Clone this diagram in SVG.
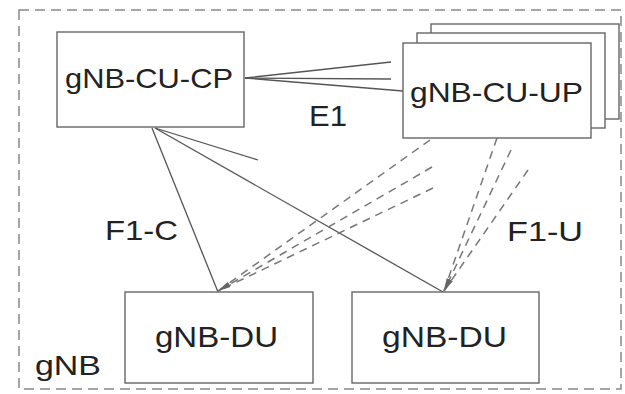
<svg xmlns="http://www.w3.org/2000/svg" width="625" height="394" viewBox="0 0 625 394">
<style>
.box{fill:#fff;stroke:#666;stroke-width:1.4}
.lbl{font-family:"Liberation Sans",Arial,sans-serif;font-size:28px;fill:#222}
.sl{stroke:#555;stroke-width:1.3;fill:none}
.dl{stroke:#777;stroke-width:1.5;stroke-dasharray:8,6;fill:none}
</style>
<defs>
<marker id="ah" markerUnits="userSpaceOnUse" markerWidth="14" markerHeight="6" refX="13" refY="2.5" orient="auto">
<path d="M0,0.8 L13,2.5 L0,4.2 z" fill="#666"/>
</marker>
</defs>
<rect x="0" y="0" width="625" height="394" fill="#fff"/>
<g id="gNB">
<rect x="19" y="10" width="602" height="379" fill="none" stroke="#888" stroke-width="1.5" stroke-dasharray="10,6"/>
<text class="lbl" x="35" y="375" textLength="66" lengthAdjust="spacingAndGlyphs">gNB</text>
</g>
<g id="connectors">
<line class="sl" x1="245" y1="78" x2="391" y2="62"/>
<line class="sl" x1="245" y1="78" x2="391" y2="79"/>
<line class="sl" x1="245" y1="78" x2="403" y2="91"/>
<line class="sl" x1="155" y1="128" x2="258" y2="160"/>
<line class="sl" x1="152" y1="128" x2="218" y2="292"/>
<line class="sl" x1="155" y1="128" x2="443" y2="292"/>
<line class="dl" x1="430" y1="140" x2="218" y2="291" marker-end="url(#ah)"/>
<line class="dl" x1="432" y1="167" x2="218" y2="291" marker-end="url(#ah)"/>
<line class="dl" x1="433" y1="188" x2="218" y2="291" marker-end="url(#ah)"/>
<line class="dl" x1="497" y1="138" x2="444" y2="291" marker-end="url(#ah)"/>
<line class="dl" x1="511" y1="150" x2="444" y2="291" marker-end="url(#ah)"/>
<line class="dl" x1="528" y1="170" x2="444" y2="291" marker-end="url(#ah)"/>
<text class="lbl" x="309" y="126" font-size="30" textLength="38" lengthAdjust="spacingAndGlyphs" style="font-size:30px">E1</text>
<text class="lbl" x="105" y="240" textLength="73" lengthAdjust="spacingAndGlyphs">F1-C</text>
<text class="lbl" x="507" y="241" textLength="76" lengthAdjust="spacingAndGlyphs">F1-U</text>
</g>
<g id="gNB-CU-CP">
<rect class="box" x="57" y="32" width="187" height="95"/>
<text class="lbl" x="65" y="88" textLength="168" lengthAdjust="spacingAndGlyphs">gNB-CU-CP</text>
</g>
<g id="gNB-CU-UP">
<rect class="box" x="431" y="24" width="188" height="95"/>
<rect class="box" x="417" y="33" width="188" height="95"/>
<rect class="box" x="403" y="43" width="188" height="95"/>
<text class="lbl" x="410" y="102" textLength="173" lengthAdjust="spacingAndGlyphs">gNB-CU-UP</text>
</g>
<g id="gNB-DU-1">
<rect class="box" x="125" y="292" width="188" height="91"/>
<text class="lbl" x="155" y="347" textLength="123" lengthAdjust="spacingAndGlyphs" style="font-size:30px">gNB-DU</text>
</g>
<g id="gNB-DU-2">
<rect class="box" x="352" y="292" width="187" height="91"/>
<text class="lbl" x="382" y="347" textLength="125" lengthAdjust="spacingAndGlyphs" style="font-size:30px">gNB-DU</text>
</g>
</svg>
